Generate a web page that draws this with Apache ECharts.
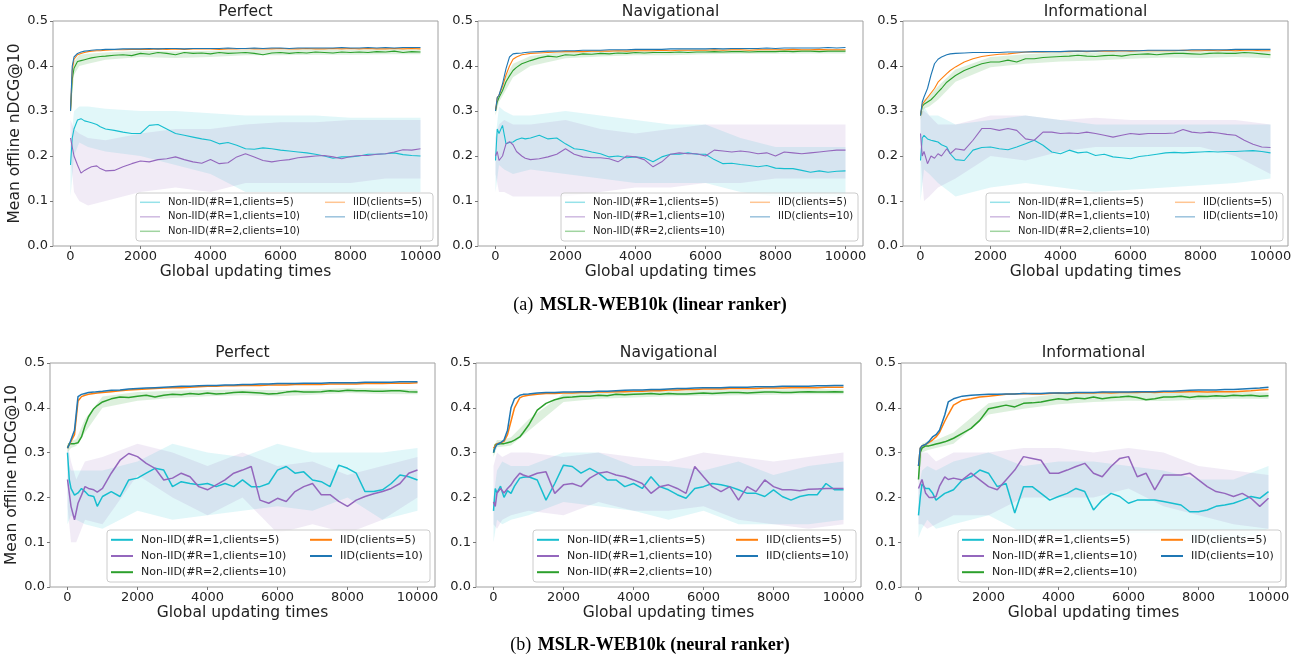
<!DOCTYPE html>
<html>
<head>
<meta charset="utf-8">
<title>MSLR-WEB10k nDCG@10</title>
<script src="https://cdn.jsdelivr.net/npm/echarts@6/dist/echarts.min.js"></script>
<style>
  html, body { margin: 0; padding: 0; background: #fff; }
  #chart { width: 1307px; height: 660px; }
</style>
</head>
<body>
<div id="chart"></div>
<script>
// global updating times (x) for the mean curves
const X = [0, 50, 100, 200, 300, 400, 500, 600, 750, 850, 1000,
  1250, 1500, 1750, 2000, 2250, 2500, 2750, 3000, 3250, 3500, 3750, 4000,
  4250, 4500, 4750, 5000, 5250, 5500, 5750, 6000, 6250, 6500, 6750, 7000,
  7250, 7500, 7750, 8000, 8250, 8500, 8750, 9000, 9250, 9500, 9750, 10000];
// x positions of the std bands
const BX = [0, 100, 250, 500, 1000, 2000, 3000, 4000, 5000, 6000, 7000, 8000, 9000, 10000];

const names = ['Non-IID(#R=1,clients=5)', 'Non-IID(#R=1,clients=10)', 'Non-IID(#R=2,clients=10)', 'IID(clients=5)', 'IID(clients=10)'];
const colors = ['#17becf', '#9467bd', '#2ca02c', '#ff7f0e', '#1f77b4'];
const titles = ['Perfect', 'Navigational', 'Informational'];
const xTicks = [0, 2000, 4000, 6000, 8000, 10000];

// (a) linear ranker - Perfect
const a1Cyan = [0.18, 0.24, 0.26, 0.28, 0.283, 0.278, 0.276, 0.274, 0.27, 0.265, 0.26,
  0.257, 0.253, 0.25, 0.25, 0.268, 0.27, 0.26, 0.25, 0.246, 0.242, 0.238, 0.235, 0.227, 0.23, 0.224, 0.216, 0.215, 0.218, 0.216, 0.213, 0.211, 0.209, 0.207, 0.204, 0.2, 0.195, 0.198, 0.198, 0.2, 0.204, 0.204, 0.205, 0.207, 0.203, 0.201, 0.2];
const a1Purple = [0.24, 0.22, 0.2, 0.18, 0.162, 0.168, 0.172, 0.176, 0.178, 0.172, 0.167,
  0.168, 0.176, 0.183, 0.189, 0.187, 0.192, 0.194, 0.198, 0.192, 0.187, 0.184, 0.192, 0.183, 0.185, 0.198, 0.205, 0.198, 0.19, 0.187, 0.19, 0.192, 0.196, 0.198, 0.2, 0.201, 0.198, 0.194, 0.199, 0.201, 0.201, 0.204, 0.205, 0.209, 0.214, 0.213, 0.216];
const a1Green = [0.3, 0.37, 0.395, 0.41, 0.412, 0.414, 0.416, 0.418, 0.42, 0.421, 0.422,
  0.424, 0.425, 0.423, 0.428, 0.426, 0.43, 0.428, 0.425, 0.43, 0.428, 0.429, 0.427, 0.43, 0.428, 0.429, 0.43, 0.428, 0.425, 0.429, 0.43, 0.428, 0.43, 0.429, 0.431, 0.43, 0.429, 0.431, 0.43, 0.431, 0.43, 0.432, 0.431, 0.433, 0.43, 0.432, 0.431];
const a1Orange = [0.3, 0.39, 0.415, 0.425, 0.428, 0.43, 0.432, 0.433, 0.434, 0.434, 0.435,
  0.436, 0.436, 0.437, 0.437, 0.437, 0.438, 0.437, 0.438, 0.437, 0.438, 0.438, 0.438, 0.437, 0.438, 0.438, 0.439, 0.438, 0.438, 0.438, 0.439, 0.438, 0.438, 0.439, 0.438, 0.438, 0.439, 0.438, 0.439, 0.438, 0.439, 0.438, 0.438, 0.439, 0.438, 0.439, 0.438];
const a1Blue = [0.3, 0.4, 0.42, 0.428, 0.431, 0.433, 0.434, 0.435, 0.436, 0.436, 0.437,
  0.437, 0.438, 0.438, 0.438, 0.439, 0.438, 0.439, 0.439, 0.438, 0.439, 0.439, 0.439, 0.439, 0.44, 0.439, 0.439, 0.44, 0.439, 0.44, 0.44, 0.439, 0.44, 0.44, 0.44, 0.44, 0.44, 0.441, 0.44, 0.44, 0.441, 0.44, 0.441, 0.44, 0.441, 0.441, 0.441];
const a1CyanLo = [0.11, 0.2, 0.23, 0.22, 0.21, 0.2, 0.18, 0.16, 0.12, 0.12, 0.115, 0.115, 0.12, 0.12];
const a1CyanHi = [0.22, 0.3, 0.31, 0.31, 0.305, 0.3, 0.3, 0.295, 0.29, 0.29, 0.29, 0.285, 0.285, 0.285];
const a1PurpleLo = [0.2, 0.12, 0.1, 0.09, 0.1, 0.12, 0.13, 0.12, 0.14, 0.14, 0.14, 0.14, 0.15, 0.15];
const a1PurpleHi = [0.28, 0.26, 0.25, 0.24, 0.235, 0.25, 0.26, 0.26, 0.27, 0.275, 0.275, 0.28, 0.28, 0.28];
const a1GreenLo = [0.29, 0.38, 0.4, 0.405, 0.414, 0.42, 0.418, 0.42, 0.424, 0.424, 0.425, 0.425, 0.426, 0.426];
const a1GreenHi = [0.31, 0.41, 0.425, 0.427, 0.43, 0.434, 0.432, 0.434, 0.436, 0.436, 0.437, 0.436, 0.437, 0.437];

// (a) linear ranker - Navigational
const a2Cyan = [0.19, 0.26, 0.25, 0.268, 0.227, 0.23, 0.231, 0.236, 0.24, 0.238, 0.24,
  0.246, 0.238, 0.24, 0.227, 0.216, 0.214, 0.209, 0.205, 0.198, 0.2, 0.196, 0.198, 0.196, 0.187, 0.198, 0.204, 0.204, 0.207, 0.204, 0.204, 0.192, 0.183, 0.184, 0.181, 0.179, 0.176, 0.179, 0.173, 0.172, 0.172, 0.168, 0.164, 0.167, 0.164, 0.166, 0.167];
const a2Purple = [0.2, 0.21, 0.19, 0.2, 0.227, 0.232, 0.225, 0.21, 0.2, 0.195, 0.192,
  0.194, 0.198, 0.204, 0.216, 0.204, 0.198, 0.196, 0.196, 0.194, 0.187, 0.2, 0.198, 0.192, 0.176, 0.187, 0.204, 0.207, 0.205, 0.205, 0.2, 0.213, 0.211, 0.209, 0.211, 0.209, 0.205, 0.207, 0.2, 0.209, 0.207, 0.205, 0.207, 0.209, 0.211, 0.213, 0.213];
const a2Green = [0.3, 0.32, 0.33, 0.345, 0.365, 0.378, 0.39, 0.397, 0.405, 0.408, 0.412,
  0.418, 0.422, 0.42, 0.425, 0.424, 0.427, 0.426, 0.428, 0.427, 0.429, 0.428, 0.43, 0.429, 0.43, 0.43, 0.43, 0.431, 0.43, 0.431, 0.431, 0.432, 0.431, 0.432, 0.432, 0.431, 0.432, 0.432, 0.432, 0.433, 0.432, 0.433, 0.433, 0.432, 0.433, 0.433, 0.433];
const a2Orange = [0.3, 0.33, 0.335, 0.355, 0.38, 0.4, 0.415, 0.42, 0.425, 0.426, 0.428,
  0.429, 0.43, 0.431, 0.432, 0.432, 0.432, 0.433, 0.433, 0.433, 0.434, 0.433, 0.434, 0.434, 0.434, 0.435, 0.434, 0.435, 0.435, 0.435, 0.435, 0.436, 0.435, 0.436, 0.436, 0.435, 0.436, 0.436, 0.436, 0.436, 0.437, 0.436, 0.436, 0.437, 0.436, 0.436, 0.436];
const a2Blue = [0.3, 0.33, 0.335, 0.36, 0.394, 0.42, 0.427, 0.428, 0.429, 0.43, 0.431,
  0.432, 0.433, 0.433, 0.434, 0.434, 0.435, 0.435, 0.435, 0.436, 0.436, 0.436, 0.437, 0.437, 0.437, 0.437, 0.438, 0.438, 0.438, 0.438, 0.438, 0.439, 0.438, 0.439, 0.439, 0.439, 0.439, 0.44, 0.439, 0.44, 0.44, 0.44, 0.44, 0.44, 0.441, 0.44, 0.441];
const a2CyanLo = [0.12, 0.18, 0.17, 0.16, 0.17, 0.16, 0.15, 0.14, 0.14, 0.14, 0.12, 0.11, 0.11, 0.11];
const a2CyanHi = [0.24, 0.31, 0.3, 0.29, 0.29, 0.3, 0.29, 0.28, 0.27, 0.27, 0.24, 0.22, 0.22, 0.22];
const a2PurpleLo = [0.16, 0.12, 0.12, 0.11, 0.11, 0.11, 0.12, 0.13, 0.13, 0.14, 0.14, 0.15, 0.15, 0.15];
const a2PurpleHi = [0.24, 0.27, 0.28, 0.27, 0.27, 0.28, 0.26, 0.25, 0.26, 0.27, 0.27, 0.27, 0.27, 0.27];
const a2GreenLo = [0.29, 0.32, 0.34, 0.375, 0.4, 0.417, 0.421, 0.424, 0.424, 0.426, 0.427, 0.427, 0.428, 0.428];
const a2GreenHi = [0.31, 0.34, 0.37, 0.405, 0.422, 0.432, 0.434, 0.436, 0.436, 0.437, 0.437, 0.437, 0.438, 0.438];

// (a) linear ranker - Informational
const a3Cyan = [0.19, 0.24, 0.246, 0.238, 0.235, 0.233, 0.231, 0.225, 0.22, 0.205, 0.192,
  0.19, 0.213, 0.219, 0.22, 0.216, 0.214, 0.22, 0.227, 0.235, 0.224, 0.209, 0.205, 0.213, 0.207, 0.209, 0.201, 0.204, 0.198, 0.196, 0.194, 0.199, 0.201, 0.204, 0.207, 0.208, 0.207, 0.208, 0.209, 0.21, 0.209, 0.21, 0.21, 0.211, 0.212, 0.21, 0.207];
const a3Purple = [0.25, 0.2, 0.21, 0.183, 0.2, 0.195, 0.205, 0.2, 0.216, 0.205, 0.216,
  0.213, 0.235, 0.261, 0.261, 0.257, 0.261, 0.257, 0.238, 0.235, 0.253, 0.253, 0.25, 0.251, 0.25, 0.253, 0.25, 0.246, 0.242, 0.246, 0.25, 0.248, 0.25, 0.25, 0.25, 0.251, 0.259, 0.253, 0.251, 0.253, 0.251, 0.248, 0.246, 0.235, 0.226, 0.22, 0.219];
const a3Green = [0.29, 0.31, 0.315, 0.32, 0.325, 0.333, 0.342, 0.35, 0.364, 0.37, 0.379,
  0.39, 0.398, 0.405, 0.409, 0.409, 0.413, 0.409, 0.416, 0.416, 0.419, 0.42, 0.421, 0.422, 0.424, 0.422, 0.421, 0.423, 0.424, 0.422, 0.425, 0.426, 0.427, 0.425, 0.427, 0.428, 0.428, 0.427, 0.426, 0.428, 0.429, 0.428, 0.428, 0.43, 0.429, 0.427, 0.425];
const a3Orange = [0.29, 0.315, 0.32, 0.33, 0.34, 0.35, 0.364, 0.372, 0.383, 0.39, 0.398,
  0.409, 0.416, 0.421, 0.424, 0.426, 0.427, 0.429, 0.431, 0.431, 0.431, 0.432, 0.432, 0.432, 0.433, 0.432, 0.433, 0.433, 0.433, 0.434, 0.433, 0.434, 0.434, 0.434, 0.434, 0.434, 0.435, 0.434, 0.434, 0.435, 0.434, 0.435, 0.434, 0.435, 0.435, 0.434, 0.434];
const a3Blue = [0.29, 0.32, 0.331, 0.35, 0.38, 0.405, 0.415, 0.42, 0.425, 0.427, 0.428,
  0.429, 0.43, 0.43, 0.43, 0.43, 0.431, 0.431, 0.431, 0.432, 0.432, 0.432, 0.432, 0.433, 0.433, 0.433, 0.433, 0.434, 0.434, 0.434, 0.434, 0.434, 0.435, 0.435, 0.435, 0.435, 0.435, 0.436, 0.436, 0.436, 0.436, 0.436, 0.437, 0.437, 0.437, 0.437, 0.437];
const a3CyanLo = [0.1, 0.17, 0.16, 0.14, 0.11, 0.13, 0.14, 0.13, 0.12, 0.125, 0.13, 0.135, 0.14, 0.15];
const a3CyanHi = [0.28, 0.31, 0.29, 0.29, 0.27, 0.28, 0.29, 0.28, 0.27, 0.27, 0.27, 0.27, 0.27, 0.27];
const a3PurpleLo = [0.2, 0.1, 0.11, 0.13, 0.15, 0.2, 0.19, 0.21, 0.22, 0.22, 0.22, 0.22, 0.2, 0.16];
const a3PurpleHi = [0.3, 0.3, 0.29, 0.27, 0.27, 0.29, 0.29, 0.28, 0.285, 0.28, 0.28, 0.28, 0.28, 0.27];
const a3GreenLo = [0.28, 0.305, 0.31, 0.325, 0.365, 0.397, 0.405, 0.41, 0.412, 0.416, 0.419, 0.418, 0.42, 0.417];
const a3GreenHi = [0.3, 0.325, 0.334, 0.355, 0.392, 0.42, 0.426, 0.43, 0.43, 0.433, 0.434, 0.433, 0.435, 0.432];

// (b) neural ranker - Perfect
const b1Cyan = [0.3, 0.24, 0.22, 0.205, 0.21, 0.22, 0.213, 0.205, 0.202, 0.18, 0.202,
  0.213, 0.202, 0.239, 0.243, 0.254, 0.265, 0.261, 0.224, 0.235, 0.231, 0.228, 0.231, 0.224, 0.231, 0.224, 0.239, 0.224, 0.224, 0.231, 0.261, 0.269, 0.254, 0.257, 0.239, 0.235, 0.224, 0.272, 0.265, 0.254, 0.213, 0.213, 0.217, 0.231, 0.25, 0.246, 0.239];
const b1Purple = [0.24, 0.21, 0.18, 0.15, 0.187, 0.205, 0.224, 0.22, 0.217, 0.212, 0.22,
  0.254, 0.283, 0.298, 0.291, 0.276, 0.265, 0.239, 0.243, 0.254, 0.246, 0.224, 0.217, 0.228, 0.239, 0.254, 0.261, 0.269, 0.194, 0.187, 0.198, 0.191, 0.213, 0.224, 0.231, 0.206, 0.206, 0.191, 0.18, 0.194, 0.202, 0.208, 0.213, 0.22, 0.231, 0.254, 0.261];
const b1Green = [0.31, 0.32, 0.318, 0.32, 0.322, 0.335, 0.36, 0.38, 0.398, 0.405, 0.413,
  0.42, 0.424, 0.423, 0.426, 0.428, 0.424, 0.428, 0.43, 0.429, 0.432, 0.43, 0.433, 0.431, 0.432, 0.434, 0.435, 0.434, 0.433, 0.431, 0.432, 0.435, 0.437, 0.435, 0.435, 0.436, 0.438, 0.437, 0.439, 0.438, 0.438, 0.437, 0.437, 0.438, 0.438, 0.436, 0.435];
const b1Orange = [0.31, 0.318, 0.322, 0.34, 0.415, 0.425, 0.428, 0.43, 0.432, 0.433, 0.434,
  0.436, 0.438, 0.44, 0.441, 0.442, 0.443, 0.444, 0.445, 0.445, 0.446, 0.447, 0.448, 0.448, 0.449, 0.449, 0.45, 0.45, 0.45, 0.451, 0.451, 0.451, 0.452, 0.452, 0.452, 0.452, 0.453, 0.453, 0.453, 0.453, 0.454, 0.454, 0.454, 0.455, 0.455, 0.455, 0.456];
const b1Blue = [0.31, 0.318, 0.322, 0.35, 0.425, 0.43, 0.432, 0.434, 0.435, 0.436, 0.437,
  0.439, 0.44, 0.442, 0.443, 0.444, 0.445, 0.446, 0.447, 0.448, 0.448, 0.449, 0.45, 0.45, 0.451, 0.451, 0.452, 0.452, 0.453, 0.453, 0.454, 0.454, 0.454, 0.455, 0.455, 0.455, 0.456, 0.456, 0.456, 0.456, 0.457, 0.457, 0.457, 0.457, 0.458, 0.458, 0.458];
const b1CyanLo = [0.14, 0.16, 0.15, 0.14, 0.13, 0.17, 0.15, 0.16, 0.17, 0.18, 0.17, 0.2, 0.15, 0.17];
const b1CyanHi = [0.28, 0.26, 0.26, 0.26, 0.26, 0.28, 0.32, 0.3, 0.29, 0.32, 0.3, 0.3, 0.3, 0.31];
const b1PurpleLo = [0.18, 0.1, 0.1, 0.15, 0.14, 0.25, 0.2, 0.16, 0.2, 0.12, 0.14, 0.12, 0.15, 0.2];
const b1PurpleHi = [0.32, 0.28, 0.24, 0.28, 0.29, 0.32, 0.3, 0.27, 0.3, 0.27, 0.28, 0.25, 0.27, 0.29];
const b1GreenLo = [0.3, 0.31, 0.315, 0.345, 0.4, 0.416, 0.422, 0.426, 0.428, 0.426, 0.429, 0.433, 0.431, 0.43];
const b1GreenHi = [0.32, 0.326, 0.33, 0.375, 0.425, 0.435, 0.438, 0.44, 0.441, 0.439, 0.441, 0.444, 0.443, 0.441];

// (b) neural ranker - Navigational
const b2Cyan = [0.17, 0.22, 0.21, 0.225, 0.2, 0.215, 0.209, 0.225, 0.243, 0.245, 0.246,
  0.239, 0.194, 0.231, 0.272, 0.269, 0.254, 0.265, 0.254, 0.239, 0.239, 0.224, 0.231, 0.22, 0.246, 0.224, 0.217, 0.206, 0.198, 0.22, 0.224, 0.231, 0.228, 0.224, 0.217, 0.209, 0.209, 0.202, 0.217, 0.202, 0.194, 0.202, 0.206, 0.206, 0.231, 0.217, 0.217];
const b2Purple = [0.19, 0.18, 0.21, 0.22, 0.21, 0.22, 0.228, 0.24, 0.254, 0.25, 0.246,
  0.254, 0.257, 0.209, 0.228, 0.231, 0.224, 0.243, 0.254, 0.257, 0.25, 0.246, 0.239, 0.231, 0.209, 0.224, 0.228, 0.22, 0.209, 0.269, 0.246, 0.224, 0.213, 0.224, 0.194, 0.224, 0.213, 0.239, 0.224, 0.217, 0.217, 0.215, 0.218, 0.219, 0.22, 0.22, 0.22];
const b2Green = [0.3, 0.318, 0.32, 0.32, 0.32, 0.322, 0.324, 0.328, 0.335, 0.345, 0.361,
  0.395, 0.41, 0.418, 0.423, 0.424, 0.426, 0.426, 0.428, 0.427, 0.43, 0.429, 0.43, 0.431, 0.432, 0.43, 0.432, 0.431, 0.431, 0.432, 0.433, 0.432, 0.433, 0.434, 0.434, 0.433, 0.434, 0.435, 0.435, 0.434, 0.434, 0.435, 0.436, 0.435, 0.435, 0.436, 0.435];
const b2Orange = [0.31, 0.315, 0.32, 0.322, 0.325, 0.34, 0.37, 0.4, 0.422, 0.426, 0.428,
  0.43, 0.432, 0.432, 0.433, 0.433, 0.434, 0.434, 0.435, 0.435, 0.436, 0.436, 0.437, 0.437, 0.438, 0.438, 0.44, 0.44, 0.441, 0.441, 0.442, 0.442, 0.442, 0.443, 0.443, 0.443, 0.443, 0.444, 0.444, 0.444, 0.445, 0.445, 0.445, 0.445, 0.446, 0.446, 0.446];
const b2Blue = [0.3, 0.312, 0.318, 0.322, 0.328, 0.35, 0.4, 0.42, 0.428, 0.43, 0.431,
  0.433, 0.434, 0.434, 0.435, 0.435, 0.436, 0.436, 0.437, 0.437, 0.438, 0.439, 0.44, 0.44, 0.441, 0.441, 0.442, 0.443, 0.443, 0.444, 0.445, 0.445, 0.445, 0.446, 0.446, 0.446, 0.447, 0.447, 0.447, 0.448, 0.448, 0.448, 0.448, 0.449, 0.449, 0.45, 0.45];
const b2CyanLo = [0.1, 0.15, 0.14, 0.15, 0.16, 0.19, 0.18, 0.17, 0.15, 0.17, 0.14, 0.14, 0.14, 0.15];
const b2CyanHi = [0.2, 0.26, 0.28, 0.27, 0.27, 0.3, 0.3, 0.27, 0.27, 0.26, 0.28, 0.25, 0.27, 0.28];
const b2PurpleLo = [0.14, 0.13, 0.15, 0.16, 0.17, 0.16, 0.19, 0.17, 0.17, 0.18, 0.15, 0.14, 0.13, 0.14];
const b2PurpleHi = [0.27, 0.3, 0.29, 0.3, 0.3, 0.29, 0.3, 0.29, 0.28, 0.3, 0.29, 0.28, 0.29, 0.3];
const b2GreenLo = [0.29, 0.312, 0.313, 0.316, 0.348, 0.413, 0.42, 0.423, 0.426, 0.427, 0.428, 0.429, 0.43, 0.43];
const b2GreenHi = [0.31, 0.328, 0.328, 0.334, 0.374, 0.432, 0.435, 0.437, 0.438, 0.439, 0.44, 0.441, 0.442, 0.441];

// (b) neural ranker - Informational
const b3Cyan = [0.16, 0.2, 0.23, 0.22, 0.22, 0.21, 0.194, 0.2, 0.209, 0.212, 0.217,
  0.239, 0.246, 0.261, 0.254, 0.224, 0.231, 0.165, 0.224, 0.224, 0.209, 0.194, 0.202, 0.209, 0.22, 0.213, 0.172, 0.194, 0.209, 0.202, 0.187, 0.194, 0.194, 0.194, 0.191, 0.187, 0.183, 0.168, 0.168, 0.172, 0.18, 0.183, 0.187, 0.194, 0.202, 0.198, 0.213];
const b3Purple = [0.22, 0.23, 0.24, 0.21, 0.2, 0.2, 0.202, 0.225, 0.246, 0.24, 0.243,
  0.239, 0.254, 0.239, 0.224, 0.217, 0.239, 0.261, 0.291, 0.287, 0.283, 0.254, 0.254, 0.261, 0.269, 0.276, 0.254, 0.246, 0.269, 0.287, 0.291, 0.246, 0.254, 0.217, 0.25, 0.25, 0.25, 0.254, 0.239, 0.224, 0.213, 0.209, 0.202, 0.209, 0.198, 0.18, 0.198];
const b3Green = [0.24, 0.3, 0.31, 0.315, 0.315, 0.317, 0.319, 0.321, 0.324, 0.327, 0.332,
  0.343, 0.354, 0.372, 0.398, 0.402, 0.406, 0.402, 0.41, 0.411, 0.413, 0.417, 0.42, 0.418, 0.422, 0.42, 0.424, 0.42, 0.423, 0.424, 0.426, 0.423, 0.418, 0.42, 0.424, 0.424, 0.426, 0.423, 0.426, 0.425, 0.427, 0.426, 0.428, 0.427, 0.428, 0.426, 0.427];
const b3Orange = [0.27, 0.31, 0.315, 0.318, 0.323, 0.328, 0.335, 0.345, 0.37, 0.385, 0.406,
  0.417, 0.42, 0.424, 0.426, 0.428, 0.43, 0.431, 0.432, 0.431, 0.431, 0.432, 0.433, 0.432, 0.433, 0.433, 0.433, 0.434, 0.433, 0.434, 0.434, 0.434, 0.435, 0.434, 0.435, 0.435, 0.435, 0.436, 0.436, 0.435, 0.436, 0.436, 0.436, 0.437, 0.438, 0.44, 0.441];
const b3Blue = [0.27, 0.31, 0.315, 0.318, 0.325, 0.335, 0.34, 0.35, 0.384, 0.413, 0.42,
  0.426, 0.428, 0.429, 0.43, 0.43, 0.431, 0.431, 0.432, 0.432, 0.432, 0.433, 0.433, 0.433, 0.434, 0.434, 0.434, 0.435, 0.435, 0.435, 0.435, 0.436, 0.436, 0.436, 0.437, 0.437, 0.438, 0.439, 0.44, 0.44, 0.44, 0.441, 0.441, 0.442, 0.443, 0.444, 0.446];
const b3CyanLo = [0.11, 0.13, 0.15, 0.13, 0.14, 0.16, 0.12, 0.12, 0.12, 0.12, 0.12, 0.1, 0.1, 0.13];
const b3CyanHi = [0.22, 0.26, 0.27, 0.26, 0.28, 0.3, 0.27, 0.28, 0.28, 0.27, 0.26, 0.24, 0.24, 0.27];
const b3PurpleLo = [0.14, 0.14, 0.13, 0.14, 0.16, 0.16, 0.2, 0.2, 0.2, 0.22, 0.18, 0.16, 0.14, 0.13];
const b3PurpleHi = [0.26, 0.3, 0.3, 0.28, 0.3, 0.3, 0.31, 0.31, 0.3, 0.31, 0.3, 0.27, 0.26, 0.25];
const b3GreenLo = [0.23, 0.3, 0.305, 0.31, 0.32, 0.385, 0.398, 0.408, 0.413, 0.416, 0.415, 0.418, 0.42, 0.42];
const b3GreenHi = [0.25, 0.32, 0.325, 0.328, 0.345, 0.41, 0.422, 0.431, 0.434, 0.435, 0.433, 0.434, 0.436, 0.434];

const panels = [
  { row: 0, col: 0, lines: [a1Cyan, a1Purple, a1Green, a1Orange, a1Blue], bands: [[a1CyanLo, a1CyanHi], [a1PurpleLo, a1PurpleHi], [a1GreenLo, a1GreenHi]] },
  { row: 0, col: 1, lines: [a2Cyan, a2Purple, a2Green, a2Orange, a2Blue], bands: [[a2CyanLo, a2CyanHi], [a2PurpleLo, a2PurpleHi], [a2GreenLo, a2GreenHi]] },
  { row: 0, col: 2, lines: [a3Cyan, a3Purple, a3Green, a3Orange, a3Blue], bands: [[a3CyanLo, a3CyanHi], [a3PurpleLo, a3PurpleHi], [a3GreenLo, a3GreenHi]] },
  { row: 1, col: 0, lines: [b1Cyan, b1Purple, b1Green, b1Orange, b1Blue], bands: [[b1CyanLo, b1CyanHi], [b1PurpleLo, b1PurpleHi], [b1GreenLo, b1GreenHi]] },
  { row: 1, col: 1, lines: [b2Cyan, b2Purple, b2Green, b2Orange, b2Blue], bands: [[b2CyanLo, b2CyanHi], [b2PurpleLo, b2PurpleHi], [b2GreenLo, b2GreenHi]] },
  { row: 1, col: 2, lines: [b3Cyan, b3Purple, b3Green, b3Orange, b3Blue], bands: [[b3CyanLo, b3CyanHi], [b3PurpleLo, b3PurpleHi], [b3GreenLo, b3GreenHi]] }
];

// layout of the two rows
const FONT = 'DejaVu Sans';
const rowLayout = [
  { top: 21, height: 225, lefts: [53, 478, 903], lineWidth: 1.1, legendFont: 10, itemW: 20, textH: 10, gap: 4.5,
    frameW: 297, frameH: 48, colShift: 185, legendAlpha: 0.45, legendLine: 1.5, yNameGap: 21, titleY: 4 },
  { top: 363, height: 224, lefts: [50, 476, 901], lineWidth: 1.5, legendFont: 11, itemW: 22, textH: 11, gap: 5.2,
    frameW: 323, frameH: 52, colShift: 199, legendAlpha: 1, legendLine: 2, yNameGap: 22, titleY: 345 }
];
const W = 385;
const captions = [
  { y: 305, tag: '(a)', text: 'MSLR-WEB10k (linear ranker)' },
  { y: 645, tag: '(b)', text: 'MSLR-WEB10k (neural ranker)' }
];

const grid = [], xAxis = [], yAxis = [], series = [], legend = [], graphic = [];

panels.forEach((p, i) => {
  const L = rowLayout[p.row];
  const left = L.lefts[p.col];
  grid.push({ left: left, top: L.top, width: W, height: L.height, show: true,
    borderColor: '#a0a0a0', borderWidth: 1, backgroundColor: 'transparent' });

  xAxis.push({
    gridIndex: i, type: 'value', min: -500, max: 10500,
    axisLine: { show: false, onZero: false },
    splitLine: { show: false },
    axisTick: { customValues: xTicks, length: 3, lineStyle: { color: '#777' } },
    axisLabel: { customValues: xTicks, margin: 4, fontSize: 13, color: '#222', fontFamily: FONT, formatter: v => String(v) },
    name: 'Global updating times', nameLocation: 'middle', nameGap: 16,
    nameTextStyle: { fontSize: 15.5, color: '#222', fontFamily: FONT }
  });
  yAxis.push({
    gridIndex: i, type: 'value', min: 0, max: 0.5, interval: 0.1,
    axisLine: { show: false, onZero: false },
    splitLine: { show: false },
    axisTick: { show: true, length: 3, lineStyle: { color: '#777' } },
    axisLabel: { margin: 5, fontSize: 13, color: '#222', fontFamily: FONT, formatter: v => v.toFixed(1) },
    name: p.col === 0 ? 'Mean offline nDCG@10' : '', nameLocation: 'middle', nameRotate: 90, nameGap: L.yNameGap,
    nameTextStyle: { fontSize: 15.5, color: '#222', fontFamily: FONT }
  });

  // std bands
  p.bands.forEach((b, k) => {
    const lo = b[0], hi = b[1];
    series.push({
      type: 'custom', xAxisIndex: i, yAxisIndex: i, silent: true, z: 1, clip: true,
      data: BX.map((x, j) => [x, lo[j], hi[j]]),
      encode: { x: 0, y: [1, 2] },
      renderItem: (params, api) => {
        if (params.dataIndex !== 0) return;
        const pts = [];
        for (let j = 0; j < BX.length; j++) pts.push(api.coord([BX[j], hi[j]]));
        for (let j = BX.length - 1; j >= 0; j--) pts.push(api.coord([BX[j], lo[j]]));
        return { type: 'polygon', shape: { points: pts }, style: { fill: colors[k], opacity: k === 2 ? 0.16 : 0.13 } };
      }
    });
  });

  // mean curves
  p.lines.forEach((ys, k) => {
    series.push({
      name: names[k], type: 'line', xAxisIndex: i, yAxisIndex: i, z: 3 + k,
      data: X.map((x, j) => [x, ys[j]]),
      symbol: 'none', showSymbol: false,
      lineStyle: { color: colors[k], width: L.lineWidth },
      itemStyle: { color: colors[k] }
    });
  });

  // legend (two columns, lower right)
  const frameRight = left + W - 5;
  const frameBottom = L.top + L.height - 5;
  const frameLeft = frameRight - L.frameW;
  const frameTop = frameBottom - L.frameH;
  graphic.push({ type: 'rect', z: 15, silent: true,
    shape: { x: frameLeft, y: frameTop, width: L.frameW, height: L.frameH, r: 3 },
    style: { fill: 'rgba(255,255,255,0.8)', stroke: '#cccccc', lineWidth: 1 } });
  const legendBase = {
    orient: 'vertical', padding: 0, itemWidth: L.itemW, itemHeight: L.legendLine, itemGap: L.gap,
    selectedMode: false, z: 20, icon: 'rect',
    itemStyle: { opacity: L.legendAlpha, borderWidth: 0 },
    textStyle: { fontSize: L.legendFont, fontFamily: FONT, color: '#222', lineHeight: L.textH, padding: [0, 0, 0, 3] }
  };
  legend.push(Object.assign({}, legendBase, { data: names.slice(0, 3), left: frameLeft + 4, top: frameTop + 4.3 }));
  legend.push(Object.assign({}, legendBase, { data: names.slice(3), left: frameLeft + 4 + L.colShift, top: frameTop + 4.3 }));

  // subplot title
  graphic.push({ type: 'text', x: left + W / 2, y: L.titleY, silent: true,
    style: { text: titles[p.col], font: '15.5px "DejaVu Sans"', fill: '#222', textAlign: 'center', textVerticalAlign: 'top' } });
});

captions.forEach(c => {
  graphic.push({ type: 'text', x: 650, y: c.y, silent: true,
    style: {
      text: '{r|' + c.tag + '}  {b|' + c.text + '}',
      textAlign: 'center', textVerticalAlign: 'middle',
      rich: {
        r: { fontFamily: 'Liberation Serif', fontSize: 18, color: '#111' },
        b: { fontFamily: 'Liberation Serif', fontSize: 18, fontWeight: 'bold', color: '#111' }
      }
    } });
});

const chart = echarts.init(document.getElementById('chart'), null, { renderer: 'canvas' });
chart.setOption({
  animation: false,
  backgroundColor: '#ffffff',
  grid, xAxis, yAxis, series, legend, graphic
});
</script>
</body>
</html>
